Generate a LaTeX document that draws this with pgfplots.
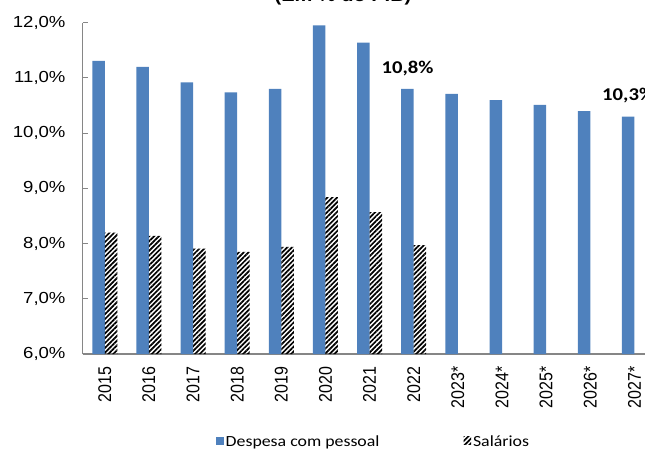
\documentclass[border=0pt]{standalone}
\usepackage{pgfplots}
\pgfplotsset{compat=1.18}
\usetikzlibrary{patterns.meta}
\usepackage{fontspec}
\setmainfont{Liberation Sans}
\newfontfamily\ticksH{Liberation Sans}[FakeStretch=1.16]
\newfontfamily\ticksV{Liberation Sans}[FakeStretch=0.87]
\newfontfamily\calib{Carlito}[FakeStretch=1.15]
\newfontfamily\titlef{Liberation Sans}[FakeStretch=1.15]
\definecolor{barblue}{HTML}{4F81BD}
\definecolor{axgray}{HTML}{868686}
\begin{document}
\begin{tikzpicture}
\path[use as bounding box] (-82.7pt,-94pt) rectangle (562.3pt,354pt);
\clip (-82.7pt,-94pt) rectangle (562.3pt,354pt);
\begin{axis}[
  at={(0pt,0pt)}, anchor=south west,
  scale only axis, width=573.8pt, height=331.3pt,
  xmin=-0.5, xmax=12.5, ymin=6, ymax=12,
  ybar=0pt, bar width=12.5pt,
  axis lines=left,
  axis line style={-, draw=axgray, line width=1.3pt},
  xtick={0,...,12},
  xticklabels={2015,2016,2017,2018,2019,2020,2021,2022,2023*,2024*,2025*,2026*,2027*},
  xtick style={draw=none},
  xticklabel style={yshift=-12.5pt, rotate=90, anchor=east, inner sep=0pt,
    font=\ticksV\fontsize{18.4}{18.4}\selectfont},
  ytick={6,7,8,9,10,11,12},
  yticklabels={{6,0\%},{7,0\%},{8,0\%},{9,0\%},{10,0\%},{11,0\%},{12,0\%}},
  yticklabel style={inner sep=0pt, xshift=-17pt, anchor=east,
    font=\ticksH\fontsize{16}{16}\selectfont},
  ytick style={draw=axgray, line width=1pt},
  tick align=inside, major tick length=5pt,
  /pgf/number format/assume math mode=true,
  legend columns=2,
  legend style={at={(0.2323,-0.2640)}, anchor=west, draw=none, fill=none,
    inner sep=0pt, font=\calib\fontsize{15.5}{15.5}\selectfont,
    /tikz/every even column/.append style={column sep=82pt}},
  legend image code/.code={\fill[#1] (0pt,-3.5pt) rectangle (7.5pt,4.5pt);},
]
\addplot[fill=barblue, draw=none] coordinates {
 (0,11.31) (1,11.2) (2,10.92) (3,10.74) (4,10.8) (5,11.95) (6,11.64) (7,10.8)
 (8,10.71) (9,10.6) (10,10.51) (11,10.4) (12,10.3)};
\addplot[draw=none, pattern={Lines[angle=45,distance=3.4pt,line width=1.7pt]}, pattern color=black] coordinates {
 (0,8.2) (1,8.14) (2,7.91) (3,7.85) (4,7.94) (5,8.84) (6,8.57) (7,7.97)};
\legend{Despesa com pessoal, Salários}
\node[anchor=base, inner sep=0pt, font=\calib\bfseries\fontsize{18}{18}\selectfont]
  at ([xshift=-6.25pt,yshift=15.7pt]axis cs:7,10.8) {10,8\%};
\node[anchor=base, inner sep=0pt, font=\calib\bfseries\fontsize{18}{18}\selectfont]
  at ([xshift=-6.25pt,yshift=16pt]axis cs:12,10.3) {10,3\%};
\end{axis}
\node[anchor=base, inner sep=0pt, font=\titlef\bfseries\fontsize{17.4}{17.4}\selectfont]
  at (260.3pt,352.5pt) {(Em \% do PIB)};
\end{tikzpicture}
\end{document}
